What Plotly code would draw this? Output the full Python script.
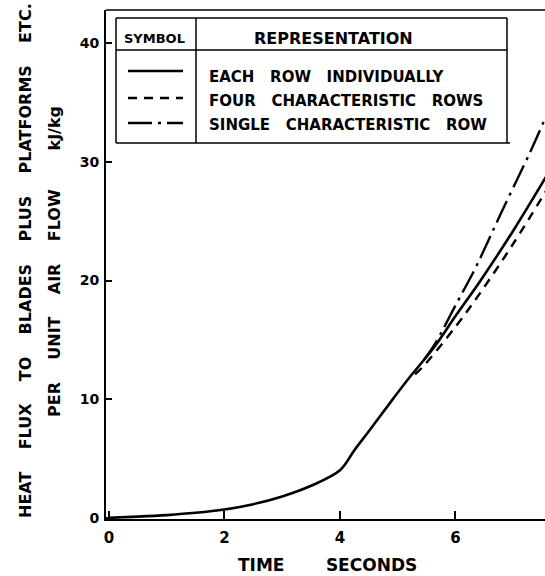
import plotly.graph_objects as go

# ---- data ----
time_each = [0, 0.5, 1.0, 1.5, 2.0, 2.5, 3.0, 3.5, 4.0, 4.25, 4.5, 4.9, 5.2, 5.65, 6.0, 6.42, 7.0, 7.6]
heat_each = [0, 0.1, 0.23, 0.42, 0.7, 1.15, 1.8, 2.7, 4.0, 5.7, 7.3, 9.9, 11.8, 14.5, 17.0, 19.9, 24.2, 29.0]

time_four = [5.3, 5.43, 6.0, 6.42, 7.0, 7.6]
heat_four = [12.1, 12.7, 16.1, 18.9, 23.1, 27.8]

time_single = [5.45, 5.65, 6.0, 6.35, 6.8, 7.3, 7.6]
heat_single = [13.3, 14.7, 17.9, 21.1, 25.8, 30.9, 34.2]

x_ticks = [0, 2, 4, 6]
y_ticks = [0, 10, 20, 30, 40]

legend_rows = ["EACH   ROW   INDIVIDUALLY", "FOUR   CHARACTERISTIC   ROWS", "SINGLE   CHARACTERISTIC   ROW"]
legend_dashes = ["solid", "9px,7px", "24px,6px,3px,6px"]

W, H = 545, 576
L, R, T, B = 106, 0, 10, 57
PW, PH = W - L - R, H - T - B

def px(x):
    return (x - L) / PW

def py(y):
    return (H - B - y) / PH

FONT = "DejaVu Sans"

def nb(s):
    return s.replace(" ", "\u00a0")

fig = go.Figure()
fig.add_trace(go.Scatter(x=time_each, y=heat_each, mode="lines",
                         line=dict(color="black", width=2.6, dash=legend_dashes[0]),
                         line_shape="spline", showlegend=False))
fig.add_trace(go.Scatter(x=time_four, y=heat_four, mode="lines",
                         line=dict(color="black", width=2.4, dash=legend_dashes[1]),
                         line_shape="spline", showlegend=False))
fig.add_trace(go.Scatter(x=time_single, y=heat_single, mode="lines",
                         line=dict(color="black", width=2.4, dash=legend_dashes[2]),
                         line_shape="spline", showlegend=False))

shapes = []
# top frame line
shapes.append(dict(type="line", xref="paper", yref="paper", x0=0, x1=1, y0=1, y1=1,
                   line=dict(color="black", width=1.6)))
# legend table
bx0, bx1, by0, by1 = 116, 507, 18, 143
lw = dict(color="black", width=1.5)
shapes += [
    dict(type="line", xref="paper", yref="paper", x0=px(bx0), x1=px(bx1), y0=py(by0), y1=py(by0), line=lw),
    dict(type="line", xref="paper", yref="paper", x0=px(bx0), x1=px(510), y0=py(by1), y1=py(by1), line=lw),
    dict(type="line", xref="paper", yref="paper", x0=px(bx0), x1=px(bx0), y0=py(by0), y1=py(by1), line=lw),
    dict(type="line", xref="paper", yref="paper", x0=px(bx1), x1=px(bx1), y0=py(by0), y1=py(by1), line=lw),
    dict(type="line", xref="paper", yref="paper", x0=px(bx0), x1=px(bx1), y0=py(50), y1=py(50), line=lw),
    dict(type="line", xref="paper", yref="paper", x0=px(196), x1=px(196), y0=py(by0), y1=py(by1), line=lw),
]
row_y = [71, 98, 123]
for ry, d in zip(row_y, legend_dashes):
    shapes.append(dict(type="line", xref="paper", yref="paper", x0=px(128), x1=px(183),
                       y0=py(ry), y1=py(ry), line=dict(color="black", width=2.4, dash=d)))

ann = []
ann.append(dict(text="SYMBOL", x=px(154), y=py(38), xref="paper", yref="paper", showarrow=False,
                font=dict(family=FONT, size=13, color="black", weight="bold"),
                xanchor="center", yanchor="middle"))
ann.append(dict(text="REPRESENTATION", x=px(333), y=py(38), xref="paper", yref="paper", showarrow=False,
                font=dict(family=FONT, size=16, color="black", weight="bold"),
                xanchor="center", yanchor="middle"))
text_y = [77, 101, 125]
for ty, t in zip(text_y, legend_rows):
    ann.append(dict(text=nb(t), x=px(207), y=py(ty), xref="paper", yref="paper",
                    showarrow=False, font=dict(family=FONT, size=15, color="black", weight="bold"),
                    xanchor="left", yanchor="middle"))

ytitle1 = "HEAT    FLUX    TO    BLADES    PLUS    PLATFORMS    ETC."
ytitle2 = "PER    UNIT    AIR    FLOW       kJ/kg"
ann.append(dict(text=nb(ytitle1), x=px(25), y=py(261), xref="paper", yref="paper",
                showarrow=False, textangle=-90,
                font=dict(family=FONT, size=16, color="black", weight="bold"),
                xanchor="center", yanchor="middle"))
ann.append(dict(text=nb(ytitle2), x=px(54), y=py(262), xref="paper", yref="paper",
                showarrow=False, textangle=-90,
                font=dict(family=FONT, size=16, color="black", weight="bold"),
                xanchor="center", yanchor="middle"))
ann.append(dict(text=nb("TIME       SECONDS"), x=px(327), y=py(565), xref="paper",
                yref="paper", showarrow=False,
                font=dict(family=FONT, size=17, color="black", weight="bold"),
                xanchor="center", yanchor="middle"))

fig.update_layout(
    width=W, height=H,
    margin=dict(l=L, r=R, t=T, b=B, pad=0),
    paper_bgcolor="white", plot_bgcolor="white",
    shapes=shapes, annotations=ann,
    xaxis=dict(range=[-0.05, 7.55], tickvals=x_ticks, ticktext=[str(v) for v in x_ticks],
               showgrid=False, zeroline=False, showline=True, linecolor="black", linewidth=2,
               ticks="inside", ticklen=8, tickwidth=1.6, tickcolor="black",
               tickfont=dict(family=FONT, size=15, color="black", weight="bold"),
               ticklabelstandoff=4),
    yaxis=dict(range=[-0.1, 42.8], tickvals=y_ticks, ticktext=[str(v) for v in y_ticks],
               showgrid=False, zeroline=False, showline=True, linecolor="black", linewidth=2,
               ticks="inside", ticklen=6, tickwidth=1.6, tickcolor="black",
               tickfont=dict(family=FONT, size=14, color="black", weight="bold"),
               ticklabelstandoff=2),
)

fig.write_html("out.html")
